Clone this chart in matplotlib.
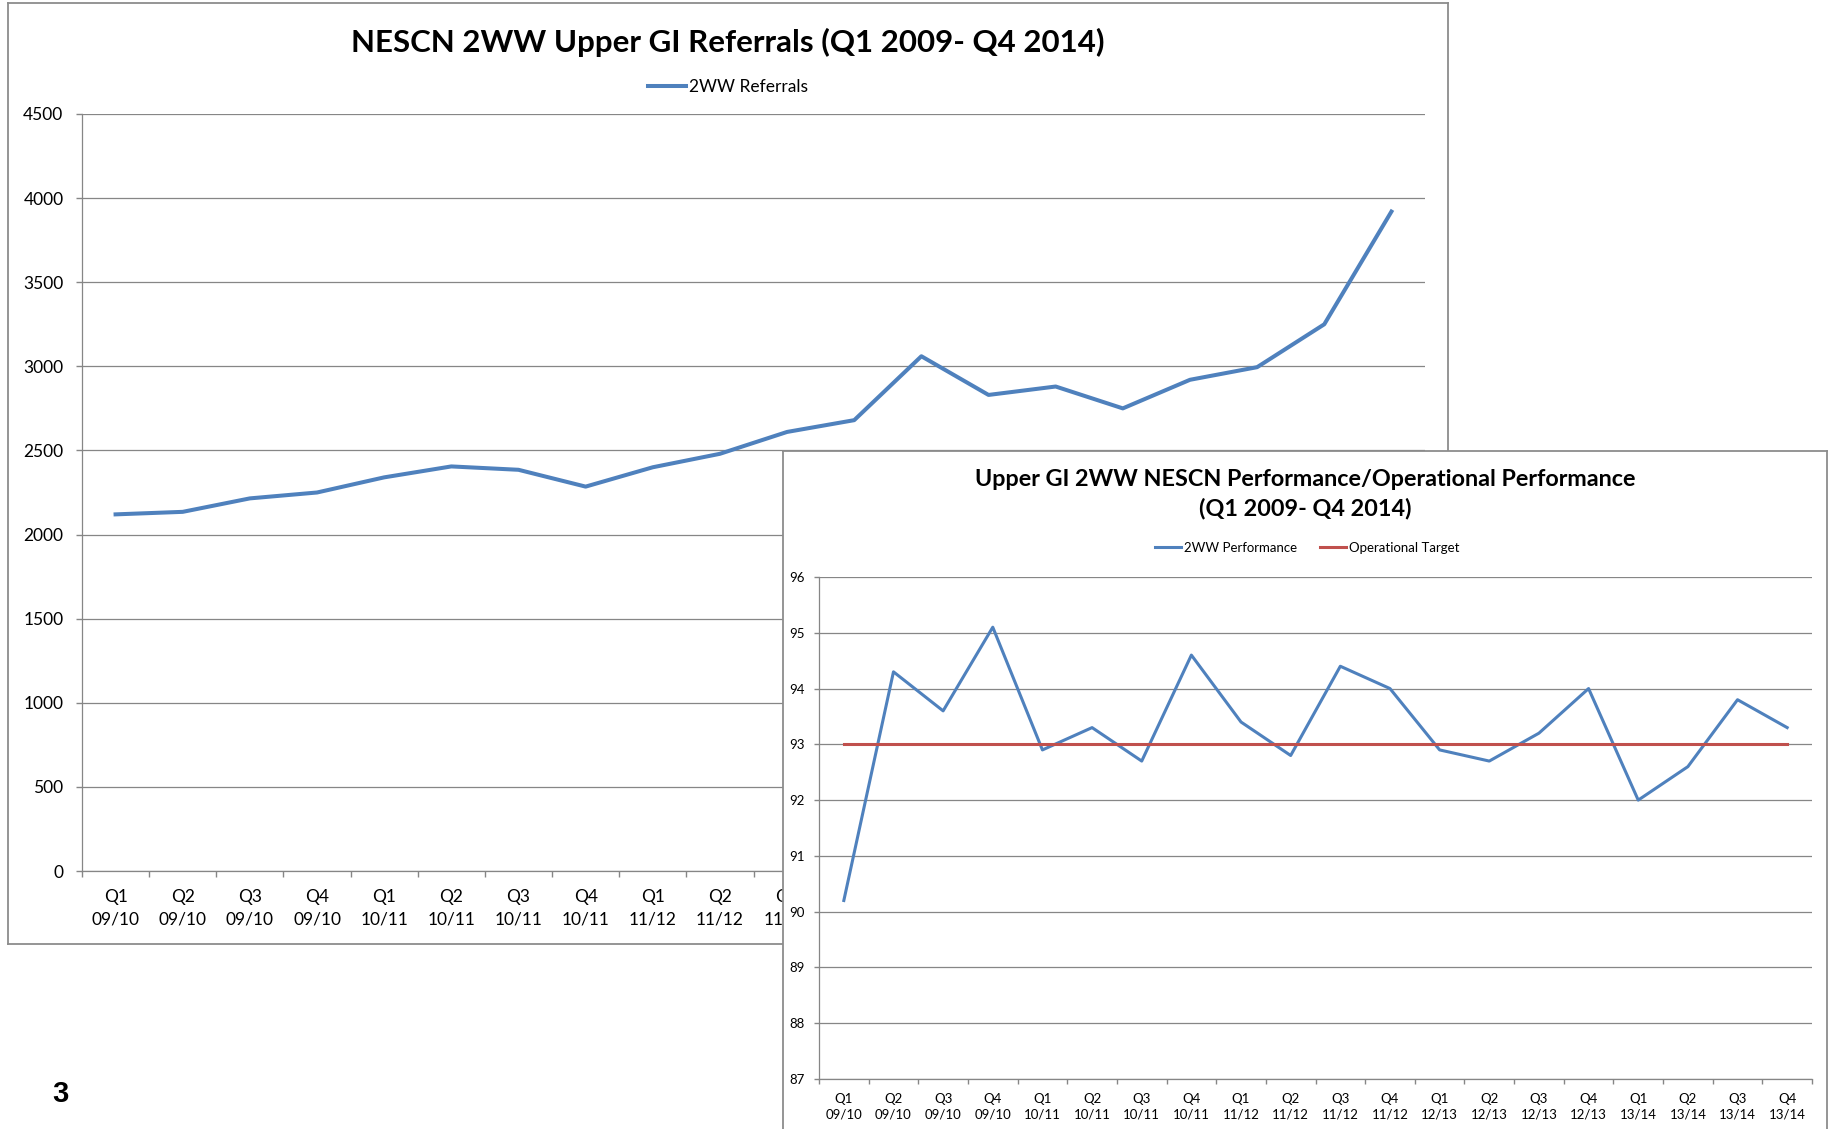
import matplotlib
matplotlib.use('Agg')
import matplotlib.pyplot as plt
from matplotlib.ticker import FixedLocator, NullFormatter

plt.rcParams['font.family'] = ['Lato', 'DejaVu Sans']

# quarter labels shared by both charts
quarters = ['Q1\n09/10', 'Q2\n09/10', 'Q3\n09/10', 'Q4\n09/10',
            'Q1\n10/11', 'Q2\n10/11', 'Q3\n10/11', 'Q4\n10/11',
            'Q1\n11/12', 'Q2\n11/12', 'Q3\n11/12', 'Q4\n11/12',
            'Q1\n12/13', 'Q2\n12/13', 'Q3\n12/13', 'Q4\n12/13',
            'Q1\n13/14', 'Q2\n13/14', 'Q3\n13/14', 'Q4\n13/14']

referrals = [2120, 2135, 2215, 2250, 2340, 2405, 2385, 2285, 2400, 2480,
             2610, 2680, 3060, 2830, 2880, 2750, 2920, 2995, 3250, 3920]

performance = [90.2, 94.3, 93.6, 95.1, 92.9, 93.3, 92.7, 94.6, 93.4, 92.8,
               94.4, 94.0, 92.9, 92.7, 93.2, 94.0, 92.0, 92.6, 93.8, 93.3]
target = [93] * len(quarters)

W, H = 1829, 1129
GREY = '#868686'
BLUE = '#4F81BD'
RED = '#C0504D'

fig = plt.figure(figsize=(W / 100, H / 100), dpi=100)
fig.patch.set_facecolor('white')


def box(x0, y0, x1, y1):
    # pixel box (top-left origin) -> figure fraction rect
    return [x0 / W, 1 - y1 / H, (x1 - x0) / W, (y1 - y0) / H]


def frame(rect, z):
    f = fig.add_axes(rect, zorder=z)
    f.set_xticks([])
    f.set_yticks([])
    for s in f.spines.values():
        s.set_color('#8c8c8c')
        s.set_linewidth(1.3)
    f.set_facecolor('white')
    return f


def style_axis(ax, n, fs, tick_len, ypad, xpad, lsp):
    ax.set_xlim(-0.5, n - 0.5)
    ax.xaxis.set_major_locator(FixedLocator([i - 0.5 for i in range(n + 1)]))
    ax.xaxis.set_major_formatter(NullFormatter())
    ax.xaxis.set_minor_locator(FixedLocator(range(n)))
    ax.set_xticklabels(quarters, minor=True, fontsize=fs, linespacing=lsp)
    ax.tick_params(axis='x', which='major', length=tick_len, color=GREY, width=1)
    ax.tick_params(axis='x', which='minor', length=0, pad=xpad)
    ax.tick_params(axis='y', length=tick_len, color=GREY, width=1, labelsize=fs, pad=ypad)
    ax.grid(axis='y', color=GREY, linewidth=0.9)
    ax.set_axisbelow(True)
    for s in ['top', 'right']:
        ax.spines[s].set_visible(False)
    for s in ['left', 'bottom']:
        ax.spines[s].set_color(GREY)
        ax.spines[s].set_linewidth(0.9)


# ---- chart 1: referrals ----
frame(box(8, 3, 1448, 944), 0)
ax1 = fig.add_axes(box(82, 114, 1425, 871), zorder=1)
ax1.set_facecolor('none')
ax1.plot(range(len(referrals)), referrals, color=BLUE, linewidth=2.9,
         label='2WW Referrals')
ax1.set_ylim(0, 4500)
ax1.set_yticks(range(0, 4501, 500))
style_axis(ax1, len(quarters), 12.5, 4.3, 9, 13, 1.5)
fig.text(728 / W, 1 - 42 / H, 'NESCN 2WW Upper GI Referrals (Q1 2009- Q4 2014)',
         ha='center', va='center', fontsize=22.5, fontweight='bold')
ax1.legend(loc='center', bbox_to_anchor=(728 / W, 1 - 87 / H),
           bbox_transform=fig.transFigure, frameon=False, fontsize=12.5,
           handlelength=2.2, handletextpad=0.2)

# ---- chart 2: performance ----
frame(box(783, 451, 1827, 1135), 2)
ax2 = fig.add_axes(box(819, 577, 1812, 1079), zorder=3)
ax2.set_facecolor('none')
ax2.plot(range(len(performance)), performance, color=BLUE, linewidth=2.2,
         label='2WW Performance')
ax2.plot(range(len(target)), target, color=RED, linewidth=2.2,
         label='Operational Target')
ax2.set_ylim(87, 96)
ax2.set_yticks(range(87, 97))
style_axis(ax2, len(quarters), 9.5, 3.6, 6.5, 10, 1.4)
fig.text(1305 / W, 1 - 494 / H,
         'Upper GI 2WW NESCN Performance/Operational Performance\n(Q1 2009- Q4 2014)',
         ha='center', va='center', fontsize=16.8, fontweight='bold', linespacing=1.4,
         zorder=4)
ax2.legend(loc='center', bbox_to_anchor=(1307 / W, 1 - 548 / H),
           bbox_transform=fig.transFigure, frameon=False, fontsize=9.5, ncol=2,
           handlelength=2.0, handletextpad=0.2, columnspacing=1.7)

# page number
fig.text(60 / W, 1 - 1094 / H, '3', ha='center', va='center', fontsize=21,
         fontweight='bold', family=['Liberation Sans', 'DejaVu Sans'])

fig.savefig('out.png', dpi=100, facecolor='white')
